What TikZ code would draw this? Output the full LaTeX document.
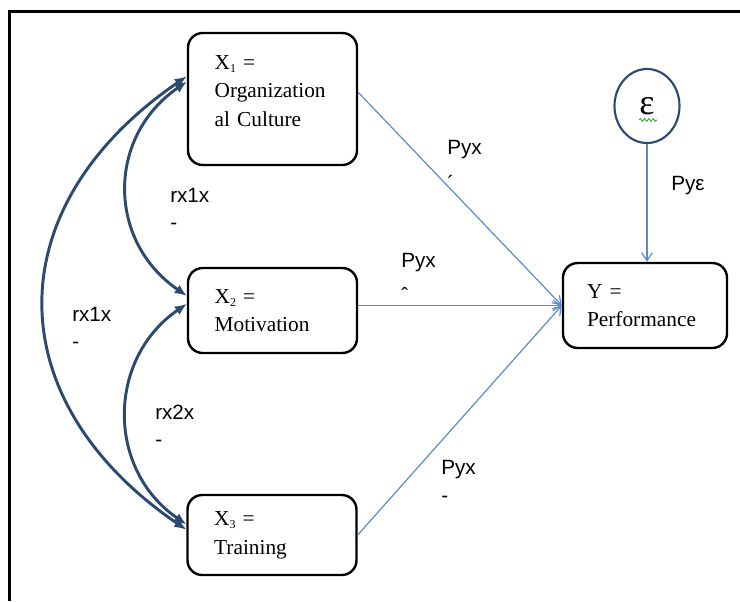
\documentclass[tikz,border=0pt]{standalone}
\usepackage{fontspec}
\setmainfont{Liberation Serif}
\newfontfamily\lblfont{Liberation Sans}
\usetikzlibrary{arrows.meta,shapes.geometric,decorations.pathmorphing,calc}
\definecolor{dcurvecol}{HTML}{2C4A6E}
\definecolor{lbluecol}{HTML}{5B8CC8}
\definecolor{squigcol}{HTML}{3DAA3D}
\newcommand\subx[1]{\raisebox{-2.5pt}{\fontsize{9}{9}\selectfont #1}}
\begin{document}
\begin{tikzpicture}[x=0.75pt,y=-0.75pt,
  box/.style={draw=black,line width=1.8pt,rounded corners=11pt,align=left,
    inner xsep=20pt,inner ysep=0pt,text width=86.75pt,minimum width=126.75pt,
    font=\fontsize{16}{21.5}\selectfont},
  ybox/.style={box,inner xsep=18pt,text width=87pt,minimum width=123pt},
  lbl/.style={font=\lblfont\fontsize{15.5}{20.25}\selectfont,align=left,inner sep=0pt,anchor=north west},
  dcurve/.style={draw=dcurvecol,line width=2.2pt,{Latex[length=9pt,width=7.5pt]}-{Latex[length=9pt,width=7.5pt]}},
  barrow/.style={draw=lbluecol,line width=0.9pt,-{Straight Barb[length=6pt,width=8pt]}}]
\useasboundingbox (0,0) rectangle (740,601);
\draw[line width=1.6pt] (9.5,601) -- (9.5,11.5) -- (740,11.5);
% boxes
\node[box,minimum height=99pt,text depth=55pt] (x1) at (272.5,99) {X\subx{1} =\\Organization\\al Culture};
\node[box,minimum height=63.75pt] (x2) at (272.5,310.5) {X\subx{2} =\\Motivation};
\node[box,minimum height=60pt] (x3) at (272,535) {X\subx{3} =\\Training};
\node[ybox,minimum height=63.75pt] (y) at (645,305.5) {Y =\\Performance};
\node[draw=dcurvecol,line width=1.6pt,ellipse,minimum width=48.75pt,minimum height=55.5pt,inner sep=0pt] (eps) at (647,106) {\fontsize{27}{27}\selectfont ε};
\draw[squigcol,line width=0.7pt,decorate,decoration={snake,amplitude=1pt,segment length=3.2pt}] (639,120) -- (657,120);
% blue arrows
\draw[barrow] ([yshift=5pt]x1.east) -- (y.west);
\draw[barrow] (x2.east |- y.west) -- (y.west);
\draw[barrow] (x3.east) -- (y.west);
\draw[barrow] (eps.south) -- (eps.south |- y.north);
% correlation curves
\draw[dcurve] ([yshift=13pt]x1.west) .. controls +(-80,55) and +(-80,-55) .. ([yshift=11pt]x2.west);
\draw[dcurve] ([yshift=5pt]x2.west) .. controls +(-80,55) and +(-80,-55) .. ([yshift=8pt]x3.west);
\draw[dcurve] ([yshift=17pt]x1.west) .. controls +(-190,130) and +(-190,-130) .. ([yshift=4pt]x3.west);
% labels
\node[lbl] (p1) at (447,140) {Pyx\\[7pt]´};
\node[lbl] (p2) at (401,253) {Pyx\\[6pt]ˆ};
\node[lbl] (p3) at (441,460) {Pyx\\[0.75pt]-};
\node[lbl] (pe) at (671,176) {Pyε};
\node[lbl] (r1) at (170,188) {rx1x\\-};
\node[lbl] (r2) at (72,307) {rx1x\\-};
\node[lbl] (r3) at (155,405) {rx2x\\-};
\end{tikzpicture}
\end{document}
